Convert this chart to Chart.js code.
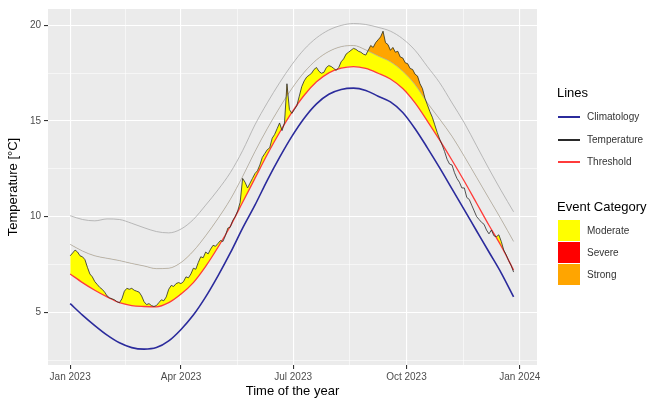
<!DOCTYPE html>
<html><head><meta charset="utf-8">
<script src="https://cdn.jsdelivr.net/npm/chart.js@4.4.1/dist/chart.umd.min.js"></script>
<style>
html,body{margin:0;padding:0;background:#fff;}
#wrap{position:relative;width:663px;height:400px;font-family:"Liberation Sans",Arial,sans-serif;overflow:hidden;}
canvas{position:absolute;left:0;top:0;}
.lg{position:absolute;white-space:nowrap;}
.lt{font-size:13px;color:#000;line-height:15px;}
.lx{font-size:10px;color:#333;line-height:12px;}
.key{position:absolute;}
</style></head><body>
<div id="wrap"><canvas id="c" width="663" height="400"></canvas><div id="legend"></div></div>
<script>
// ---- data ----
const smoothStep = 10; // days between samples of the smooth curves (day 0 = 1 Jan 2023)
const climatology = [5.45,4.85,4.3,3.8,3.4,3.15,3.07,3.15,3.5,4.1,4.85,5.8,6.9,8.1,9.4,10.6,11.9,13.1,14.2,15.15,15.9,16.4,16.65,16.72,16.6,16.3,16.0,15.45,14.6,13.6,12.55,11.45,10.35,9.25,8.15,7.05,5.8];
const threshold = [7.0,6.55,6.15,5.8,5.5,5.35,5.3,5.28,5.5,5.95,6.55,7.4,8.4,9.5,10.75,12.0,13.25,14.4,15.45,16.35,17.05,17.52,17.77,17.85,17.75,17.5,17.2,16.7,15.95,15.0,14.0,12.95,11.85,10.7,9.55,8.45,7.2];
const threshold2x = [8.55,8.2,7.95,7.82,7.7,7.55,7.42,7.28,7.3,7.6,8.2,9.0,9.9,10.9,12.1,13.4,14.6,15.7,16.7,17.55,18.2,18.64,18.89,18.95,18.72,18.4,18.1,17.6,16.9,15.95,15.1,14.2,13.15,12.05,10.95,9.85,8.7];
const threshold3x = [10.05,9.85,9.78,9.88,9.85,9.65,9.42,9.22,9.15,9.35,9.85,10.6,11.4,12.3,13.45,14.8,15.95,17.0,17.95,18.75,19.35,19.76,20.0,20.1,20.05,19.9,19.7,19.3,18.7,17.85,17.0,15.95,14.9,13.7,12.5,11.35,10.25];
const tempStep = 2; // days between temperature samples
const temperature = [
 7.95,8.1,8.25,8.15,7.95,7.9,7.75,7.35,7.0,6.85,
 6.6,6.45,6.3,6.2,6.05,5.85,5.75,5.7,5.65,5.55,
 5.5,5.7,6.1,6.25,6.2,6.25,6.15,6.1,6.05,5.85,
 5.55,5.4,5.45,5.35,5.3,5.35,5.5,5.65,5.6,5.8,
 6.2,6.4,6.35,6.5,6.55,6.5,6.6,6.85,6.8,7.0,
 7.3,7.25,7.6,7.9,7.85,8.15,8.05,8.3,8.5,8.45,
 8.6,8.75,8.7,9.0,9.4,9.45,9.8,10.0,10.3,10.75,
 12.0,11.8,11.5,11.75,12.0,12.25,12.4,12.7,13.1,13.3,
 13.5,13.6,14.1,14.3,14.6,14.9,14.5,14.9,16.95,15.6,
 15.4,15.6,15.8,16.3,16.8,17.1,17.3,17.4,17.5,17.7,
 17.8,17.6,17.5,17.55,17.8,17.9,17.85,17.75,17.65,17.8,
 18.1,18.25,18.5,18.6,18.7,18.8,18.75,18.65,18.6,18.5,
 18.45,18.7,18.95,18.85,19.1,19.25,19.4,19.7,19.1,19.0,
 18.7,18.85,18.6,18.65,18.35,18.3,18.05,18.0,17.75,17.7,
 17.45,17.35,16.95,16.7,16.2,15.85,15.5,15.2,14.8,14.4,
 14.05,13.75,13.4,13.0,12.75,12.7,12.3,12.0,11.8,11.5,
 11.5,11.0,10.9,10.6,10.3,10.0,9.85,9.7,9.6,9.3,
 9.1,9.3,9.0,8.95,9.05,8.7,8.25,8.0,7.7,7.45,
 7.1];
const xTickDays = [0,90,181,273,365];
const xTickLabels = ['Jan 2023','Apr 2023','Jul 2023','Oct 2023','Jan 2024'];
const xMinorDays = [45,135.5,227,319];
const yTickValues = [5,10,15,20];
const yMinorValues = [2.5,7.5,12.5,17.5];
const lineNames = ['Climatology','Temperature','Threshold'];
const lineColors = ['#2b2b9c','#2a2a2a','#ff3b3b'];
const categoryNames = ['Moderate','Severe','Strong'];
const categoryColors = ['#ffff00','#ff0000','#ffa500'];

// ---- build ----
const FONT = '"Liberation Sans", Arial, sans-serif';
const toPts = (arr, step) => arr.map((v, i) => ({x: i * step, y: v}));
const grey = '#a9a9a9';

const panelBg = {
  id: 'panelBg',
  beforeDraw(chart) {
    const {ctx, chartArea: a} = chart;
    ctx.save(); ctx.fillStyle = '#ebebeb';
    ctx.fillRect(a.left, a.top, a.right - a.left, a.bottom - a.top);
    ctx.restore();
  }
};

function setTicks(majors, minors) {
  return function(scale) {
    const t = majors.map(v => ({value: v, minor: false})).concat(minors.map(v => ({value: v, minor: true})));
    t.sort((a, b) => a.value - b.value);
    scale.ticks = t;
  };
}
const gridColor = () => '#ffffff';
const gridWidth = c => (c.tick && c.tick.minor) ? 0.55 : 1.1;
const tickColor = c => (c.tick && c.tick.minor) ? 'rgba(0,0,0,0)' : '#333333';

new Chart(document.getElementById('c'), {
  type: 'line',
  data: {
    datasets: [
      {label: 'Temperature', data: toPts(temperature, tempStep), borderColor: lineColors[1], borderWidth: 0.8, pointRadius: 0, fill: false, order: 1},
      {label: 'Threshold', data: toPts(threshold, smoothStep), borderColor: lineColors[2], borderWidth: 1.3, pointRadius: 0, cubicInterpolationMode: 'monotone', fill: false, order: 2},
      {label: 'Climatology', data: toPts(climatology, smoothStep), borderColor: lineColors[0], borderWidth: 1.6, pointRadius: 0, cubicInterpolationMode: 'monotone', fill: false, order: 3},
      {label: 'Threshold 2x', data: toPts(threshold2x, smoothStep), borderColor: grey, borderWidth: 0.8, pointRadius: 0, cubicInterpolationMode: 'monotone', fill: false, order: 4},
      {label: 'Threshold 3x', data: toPts(threshold3x, smoothStep), borderColor: grey, borderWidth: 0.8, pointRadius: 0, cubicInterpolationMode: 'monotone', fill: false, order: 5},
      {label: 'Strong', data: toPts(temperature, tempStep), borderColor: 'rgba(0,0,0,0)', borderWidth: 0, pointRadius: 0, fill: {target: 3, above: categoryColors[2], below: 'rgba(0,0,0,0)'}, order: 6},
      {label: 'Moderate', data: toPts(temperature, tempStep), borderColor: 'rgba(0,0,0,0)', borderWidth: 0, pointRadius: 0, fill: {target: 1, above: categoryColors[0], below: 'rgba(0,0,0,0)'}, order: 7}
    ]
  },
  options: {
    responsive: false, animation: false, events: [],
    layout: {padding: {left: 0, right: 126, top: 5, bottom: 0}},
    plugins: {legend: {display: false}, tooltip: {enabled: false}},
    scales: {
      x: {
        type: 'linear', min: -18, max: 379,
        afterBuildTicks: setTicks(xTickDays, xMinorDays),
        afterFit(s) { s.height = 35; },
        grid: {color: gridColor, lineWidth: gridWidth, tickColor: tickColor, tickLength: 4, drawTicks: true},
        border: {display: false},
        ticks: {autoSkip: false, maxRotation: 0, padding: 2, color: '#4d4d4d', font: {family: FONT, size: 10},
          callback: (v, i, ticks) => ticks[i].minor ? '' : xTickLabels[xTickDays.indexOf(ticks[i].value)]},
        title: {display: true, text: 'Time of the year', color: '#000', font: {family: FONT, size: 13}, padding: {top: 0, bottom: 1}}
      },
      y: {
        type: 'linear', min: 2.24, max: 20.86,
        afterBuildTicks: setTicks(yTickValues, yMinorValues),
        afterFit(s) { s.width = 48; },
        grid: {color: gridColor, lineWidth: gridWidth, tickColor: tickColor, tickLength: 4, drawTicks: true},
        border: {display: false},
        ticks: {autoSkip: false, padding: 3, color: '#4d4d4d', font: {family: FONT, size: 10},
          callback: (v, i, ticks) => ticks[i].minor ? '' : String(ticks[i].value)},
        title: {display: true, text: 'Temperature [°C]', color: '#000', font: {family: FONT, size: 13}, padding: {top: 6, bottom: 0}}
      }
    }
  },
  plugins: [panelBg]
});

// ---- legend (HTML) ----
const lg = document.getElementById('legend');
function add(html) { lg.insertAdjacentHTML('beforeend', html); }
add('<div class="lg lt" style="left:557px;top:85px">Lines</div>');
lineNames.forEach((n, i) => {
  const cy = 117 + i * 22.5;
  add('<div class="key" style="left:558px;top:' + (cy - 1) + 'px;width:22px;height:2px;background:' + lineColors[i] + '"></div>');
  add('<div class="lg lx" style="left:587px;top:' + (cy - 6) + 'px">' + n + '</div>');
});
add('<div class="lg lt" style="left:557px;top:199px">Event Category</div>');
categoryNames.forEach((n, i) => {
  const top = 220 + i * 22;
  add('<div class="key" style="left:558px;top:' + top + 'px;width:22px;height:21px;background:' + categoryColors[i] + '"></div>');
  add('<div class="lg lx" style="left:587px;top:' + (top + 4.5) + 'px">' + n + '</div>');
});
</script>
</body></html>
